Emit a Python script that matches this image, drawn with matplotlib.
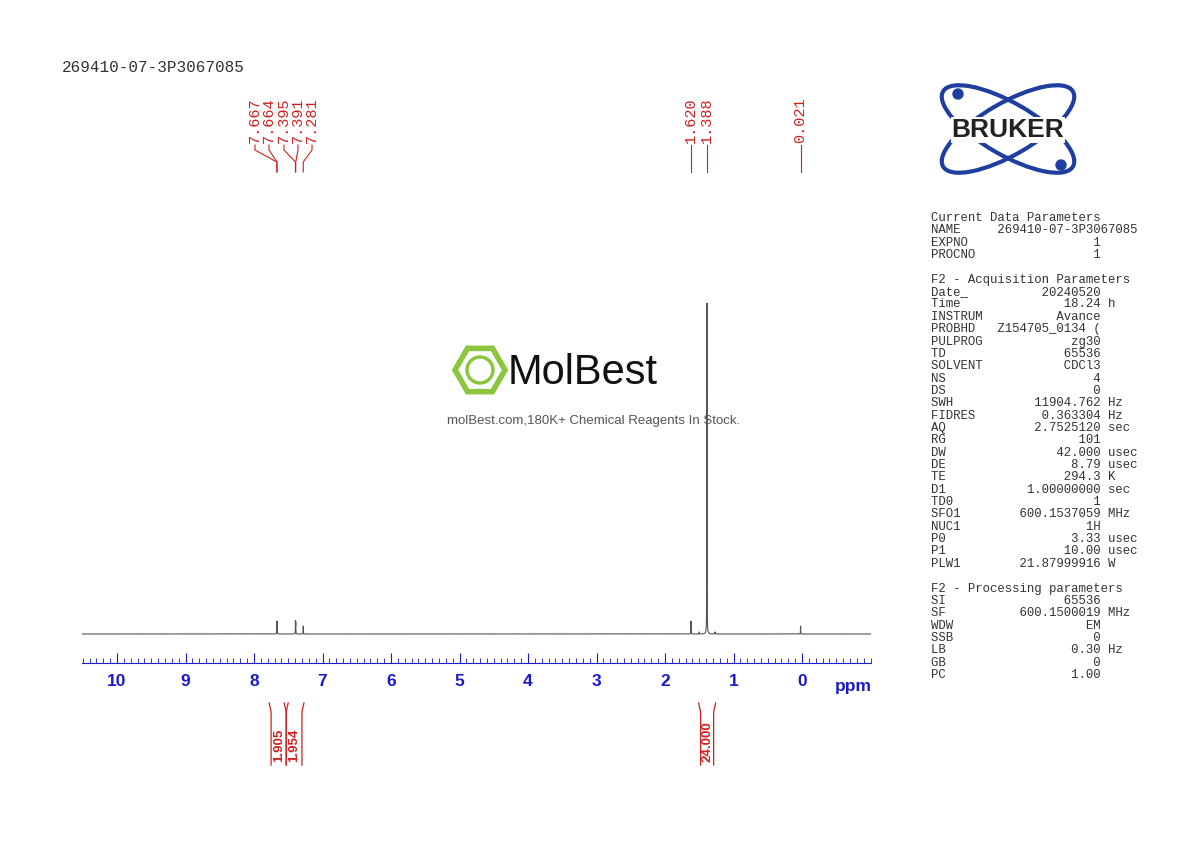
import numpy as np
import matplotlib.pyplot as plt
from matplotlib.patches import Ellipse, RegularPolygon, Circle

# peak list (ppm) and heights (arbitrary units, pixels above baseline)
peak_ppm = [7.667, 7.664, 7.395, 7.391, 7.281, 1.620, 1.500, 1.388, 1.270, 0.021]
peak_height = [11, 10, 12, 11, 8, 13, 2, 331, 2, 8]
label_ppm = [7.667, 7.664, 7.395, 7.391, 7.281, 1.620, 1.388, 0.021]
integ_ranges = [(7.75, 7.53), (7.53, 7.30), (1.48, 1.29)]
integ_values = ["1.905", "1.954", "24.000"]

params = [
    ("Current Data Parameters", None, None),
    ("NAME", "269410-07-3P3067085", None),
    ("EXPNO", "1", None),
    ("PROCNO", "1", None),
    ("", None, None),
    ("F2 - Acquisition Parameters", None, None),
    ("Date_", "20240520", None),
    ("Time", "18.24", "h"),
    ("INSTRUM", "Avance", None),
    ("PROBHD", "Z154705_0134 (", None),
    ("PULPROG", "zg30", None),
    ("TD", "65536", None),
    ("SOLVENT", "CDCl3", None),
    ("NS", "4", None),
    ("DS", "0", None),
    ("SWH", "11904.762", "Hz"),
    ("FIDRES", "0.363304", "Hz"),
    ("AQ", "2.7525120", "sec"),
    ("RG", "101", None),
    ("DW", "42.000", "usec"),
    ("DE", "8.79", "usec"),
    ("TE", "294.3", "K"),
    ("D1", "1.00000000", "sec"),
    ("TD0", "1", None),
    ("SFO1", "600.1537059", "MHz"),
    ("NUC1", "1H", None),
    ("P0", "3.33", "usec"),
    ("P1", "10.00", "usec"),
    ("PLW1", "21.87999916", "W"),
    ("", None, None),
    ("F2 - Processing parameters", None, None),
    ("SI", "65536", None),
    ("SF", "600.1500019", "MHz"),
    ("WDW", "EM", None),
    ("SSB", "0", None),
    ("LB", "0.30", "Hz"),
    ("GB", "0", None),
    ("PC", "1.00", None),
]

W, H = 1190, 842
RED = "#d02020"
BLUE = "#1a1acc"
MONO = "Liberation Mono"

# ppm -> pixel mapping (10 at x=117, 0 at x=802)
def px(ppm):
    return 802 - ppm * 68.5

fig = plt.figure(figsize=(W / 100, H / 100), dpi=100)

# spectrum axes: x from 82 to 871 px, y from 663 (bottom) to 90 (top)
ax = fig.add_axes([82 / W, (H - 663) / H, 789 / W, 573 / H])
x0, x1 = (802 - 82) / 68.5, (802 - 871) / 68.5
ppm = np.linspace(x0, x1, 40000)
spec = np.zeros_like(ppm)
hw = 0.0015
for p, h in zip(peak_ppm, peak_height):
    spec += h * hw**2 / ((ppm - p) ** 2 + hw**2)
ax.plot(ppm, spec, color="#555555", lw=0.8)
ax.set_xlim(x0, x1)
ax.set_ylim(-29, 544)
for s in ["top", "left", "right"]:
    ax.spines[s].set_visible(False)
ax.spines["bottom"].set_color(BLUE)
ax.set_yticks([])
ax.set_xticks(np.arange(0, 11))
ax.set_xticks(np.arange(-1.0, 10.51, 0.1), minor=True)
ax.tick_params(axis="x", which="major", direction="in", length=7, color=BLUE, pad=8,
               labelcolor=BLUE, labelsize=12.5)
ax.tick_params(axis="x", which="minor", direction="in", length=3.5, color=BLUE)
for lab in ax.get_xticklabels():
    lab.set_fontweight("bold")
    lab.set_family("Liberation Sans")

# overlay in pixel coordinates
ov = fig.add_axes([0, 0, 1, 1])
ov.set_xlim(0, W)
ov.set_ylim(H, 0)
ov.axis("off")

ov.text(872, 686, "ppm", color=BLUE, fontsize=12.5, fontweight="bold",
        family="Liberation Sans", ha="right", va="center")
ov.text(62, 68, "269410-07-3P3067085", family=MONO, fontsize=11.5, color="#333333", va="center")

# peak labels
lx = [255, 269, 284, 298, 312, px(1.620), px(1.388), px(0.021)]
for p, x in zip(label_ppm, lx):
    ov.text(x, 143, f"{p:.3f}", rotation=90, family=MONO, fontsize=11, color=RED,
            ha="center", va="bottom")
    xp = px(p)
    ov.plot([x, x, xp, xp], [145, 150, 162, 172], color=RED, lw=0.8)

# integrals
for (a, b), v in zip(integ_ranges, integ_values):
    xa, xb = px(a), px(b)
    for xe, d in [(xa, 1), (xb, -1)]:
        ov.plot([xe - d * 2, xe, xe], [703, 712, 765], color=RED, lw=0.9)
    ov.text((xa + xb) / 2, 762, v, rotation=90, fontsize=9.5, fontweight="bold",
            family="Liberation Sans", color=RED, ha="center", va="bottom")

# acquisition parameters
y = 218
for name, val, unit in params:
    if val is None:
        line = name
    elif name == "NAME":
        line = name.ljust(9) + val
    else:
        line = name.ljust(9) + val.rjust(14)
        if unit:
            line += " " + unit
    ov.text(931, y, line, family=MONO, fontsize=8.9, color="#333333", va="center")
    y += 12.35

# Bruker logo
for ang in (30, -30):
    ov.add_patch(Ellipse((1008, 129), 150, 52, angle=ang, fill=False, ec="#1f3fa0", lw=3))
ov.add_patch(Circle((958, 94), 5, color="#1f3fa0"))
ov.add_patch(Circle((1061, 165), 5, color="#1f3fa0"))
ov.text(1008, 130, "BRUKER", fontsize=19, fontweight="bold", family="Liberation Sans",
        ha="center", va="center", color="#222222",
        bbox=dict(fc="white", ec="none", pad=0.5))

# MolBest watermark
ov.add_patch(RegularPolygon((480, 370), 6, radius=25, orientation=np.pi / 2,
                            fill=False, ec="#8cc63f", lw=4))
ov.add_patch(Circle((480, 370), 13, fill=False, ec="#8cc63f", lw=2.5))
ov.text(508, 373, "MolBest", fontsize=30, family="Liberation Sans", color="#111111",
        va="center", ha="left")
ov.text(594, 421, "molBest.com,180K+ Chemical Reagents In Stock.", fontsize=9.5,
        family="Liberation Sans", color="#555555", ha="center", va="center")

fig.savefig("out.png", dpi=100)
